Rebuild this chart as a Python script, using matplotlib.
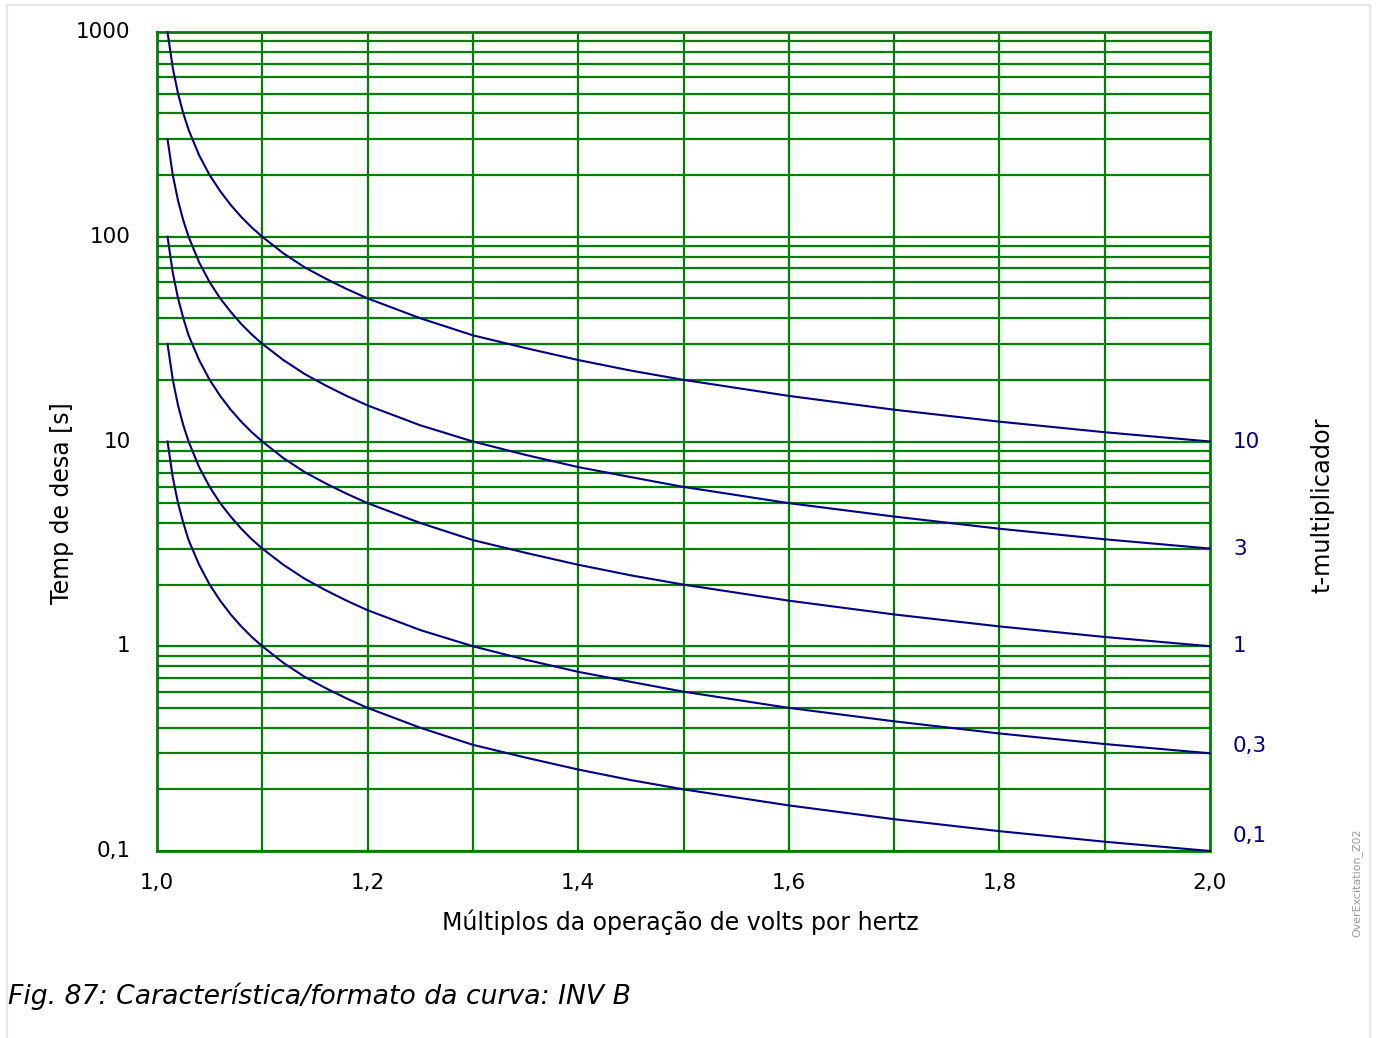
import numpy as np
import matplotlib.pyplot as plt
from matplotlib.lines import Line2D

# multiple of V/Hz pickup (x) and trip time
m = [1.01, 1.015, 1.02, 1.025, 1.03, 1.04, 1.05, 1.06, 1.07, 1.08, 1.09, 1.10,
     1.12, 1.14, 1.16, 1.18, 1.20, 1.25, 1.30, 1.35, 1.40, 1.45, 1.50,
     1.60, 1.70, 1.80, 1.90, 2.00]
t_10 = [1000, 667, 500, 400, 333, 250, 200, 167, 143, 125, 111, 100,
        83, 71, 62.5, 55.6, 50, 40, 33, 28.6, 25, 22.2, 20,
        16.7, 14.3, 12.5, 11.1, 10]
t_3 = [300, 200, 150, 120, 100, 75, 60, 50, 43, 37.5, 33.3, 30,
       25, 21.4, 18.8, 16.7, 15, 12, 10, 8.6, 7.5, 6.7, 6,
       5, 4.3, 3.75, 3.33, 3]
t_1 = [100, 66.7, 50, 40, 33, 25, 20, 16.7, 14.3, 12.5, 11.1, 10,
       8.3, 7.1, 6.25, 5.56, 5, 4, 3.3, 2.86, 2.5, 2.22, 2,
       1.67, 1.43, 1.25, 1.11, 1]
t_03 = [30, 20, 15, 12, 10, 7.5, 6, 5, 4.3, 3.75, 3.33, 3,
        2.5, 2.14, 1.88, 1.67, 1.5, 1.2, 1, 0.86, 0.75, 0.67, 0.6,
        0.5, 0.43, 0.375, 0.333, 0.3]
t_01 = [10, 6.67, 5, 4, 3.3, 2.5, 2, 1.67, 1.43, 1.25, 1.11, 1,
        0.83, 0.71, 0.625, 0.556, 0.5, 0.4, 0.33, 0.286, 0.25, 0.222, 0.2,
        0.167, 0.143, 0.125, 0.111, 0.1]
curves = [t_10, t_3, t_1, t_03, t_01]
mult_labels = ["10", "3", "1", "0,3", "0,1"]
label_y = [10, 3.0, 1.0, 0.326, 0.118]

xticks = [1.0, 1.2, 1.4, 1.6, 1.8, 2.0]
xticklabels = ["1,0", "1,2", "1,4", "1,6", "1,8", "2,0"]
yticks = [0.1, 1, 10, 100, 1000]
yticklabels = ["0,1", "1", "10", "100", "1000"]

green = "#008000"
navy = "#000080"
W, H = 1376, 1038

fig = plt.figure(figsize=(W/100, H/100), dpi=100)
ax = fig.add_axes([157/W, 1 - 851/H, (1210-157)/W, (851-32)/H])

ax.set_yscale("log")
ax.set_xlim(1.0, 2.0)
ax.set_ylim(0.1, 1000)

# grid
for x in np.arange(1.1, 2.0, 0.1):
    ax.axvline(x, color=green, lw=1.6, zorder=1)
for dec in [0.1, 1, 10, 100]:
    for k in range(1, 10):
        ax.axhline(dec*k, color=green, lw=1.6, zorder=1)
for s in ax.spines.values():
    s.set_color(green)
    s.set_linewidth(2)

for t in curves:
    ax.plot(m, t, color=navy, lw=1.5, zorder=3, clip_on=False)

for lab, y in zip(mult_labels, label_y):
    ax.text(2.0218, y, lab, color=navy, fontsize=15.5, va="center", ha="left")

ax.set_xticks(xticks)
ax.set_xticklabels(xticklabels)
ax.set_yticks(yticks)
ax.set_yticklabels(yticklabels)
ax.minorticks_off()
ax.tick_params(axis="both", length=0, labelsize=15.5)
ax.tick_params(axis="x", pad=16)
ax.tick_params(axis="y", pad=19)
for lbl in ax.get_yticklabels():
    lbl.set_verticalalignment("center")

fig.text(680/W, 1 - 922/H, "Múltiplos da operação de volts por hertz",
         fontsize=17, ha="center", va="center")
fig.text(62/W, 1 - 503/H, "Temp de desa [s]", rotation=90,
         fontsize=17, ha="center", va="center")
fig.text(1322/W, 1 - 505/H, "t-multiplicador", rotation=90,
         fontsize=17.3, ha="center", va="center")
fig.text(1357/W, 1 - 883/H, "OverExcitation_Z02", rotation=90,
         fontsize=7.9, color="#999999", ha="center", va="center")
fig.text(8/W, 1 - 996/H, "Fig. 87: Característica/formato da curva: INV B",
         fontsize=19.2, style="italic", ha="left", va="center")

# light frame around the figure
fc = "#e6e6e6"
fig.add_artist(Line2D([7/W, 7/W], [0, 1 - 5/H], color=fc, lw=1.5, transform=fig.transFigure))
fig.add_artist(Line2D([7/W, 1370/W], [1 - 5/H, 1 - 5/H], color=fc, lw=1.5, transform=fig.transFigure))
fig.add_artist(Line2D([1370/W, 1370/W], [0, 1 - 5/H], color=fc, lw=1.5, transform=fig.transFigure))

fig.savefig("out.png", dpi=100)
